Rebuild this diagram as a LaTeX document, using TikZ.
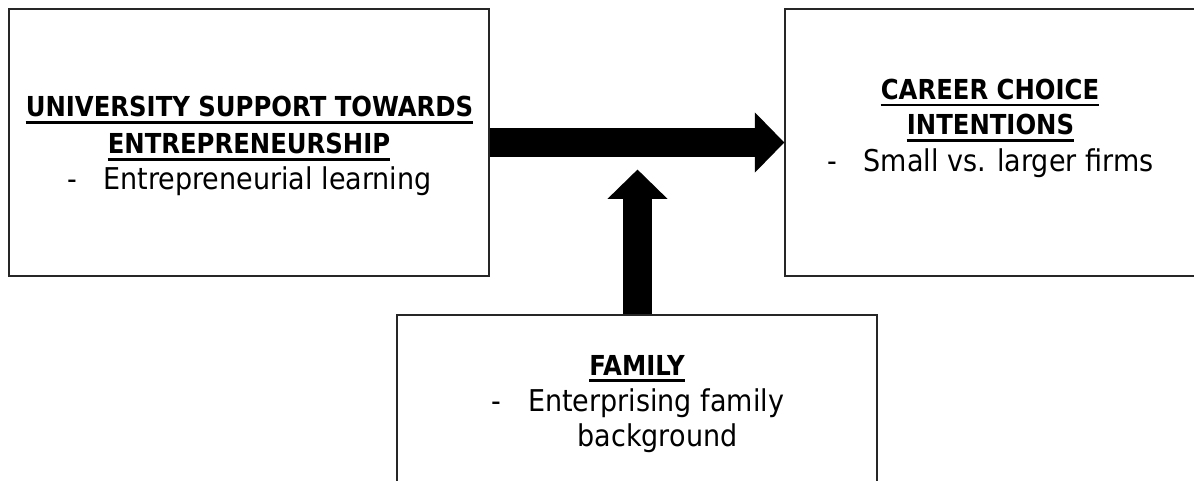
\documentclass[tikz,border=0pt]{standalone}
\usepackage{fontspec}
\setmainfont{DejaVu Sans}[FakeStretch=0.885]
\newfontfamily\bodyfont{DejaVu Sans}[FakeStretch=0.9]
\usetikzlibrary{arrows.meta}
\tikzset{
  box/.style={draw=black!85, line width=1.3pt, fill=none, inner sep=0pt},
  title/.style={font=\fontsize{27.5}{33}\selectfont\bfseries, inner sep=0pt, anchor=base},
  body/.style={font=\bodyfont\fontsize{30}{36}\selectfont, inner sep=0pt, anchor=base},
  ul/.style={line width=2.4pt, black},
  bigarrow/.style={line width=29.5pt, black, line cap=butt, -{Triangle[length=29.5pt, width=58.5pt]}}
}
\newcommand{\dashitem}{\makebox[36pt][l]{-}}
\begin{document}
\begin{tikzpicture}[x=1pt,y=-1pt]
\useasboundingbox (0,0) rectangle (1194,481);
% boxes
\node[box, minimum width=480pt, minimum height=267pt] (uni) at (249,142.5) {};
\node[box, minimum width=411pt, minimum height=267pt] (career) at (990.5,142.5) {};
\node[box, minimum width=480pt, minimum height=200pt] (family) at (637,415) {};
% left texts
\node[title] (u1) at (249.5,116.7) {UNIVERSITY SUPPORT TOWARDS};
\node[title] (u2) at (249,154) {ENTREPRENEURSHIP};
\node[body] (u3) at (249.5,190) {\dashitem Entrepreneurial learning};
\draw[ul] ([yshift=-6pt]u1.base west) -- ([yshift=-6pt]u1.base east);
\draw[ul] ([yshift=-5.5pt]u2.base west) -- ([yshift=-5.5pt]u2.base east);
% right texts
\node[title] (c1) at (990,99.3) {CAREER CHOICE};
\node[title] (c2) at (990.5,135) {INTENTIONS};
\node[body] (c3) at (990.5,171.7) {\dashitem Small vs. larger firms};
\draw[ul] ([yshift=-5.5pt]c1.base west) -- ([yshift=-5.5pt]c1.base east);
\draw[ul] ([yshift=-5.5pt]c2.base west) -- ([yshift=-5.5pt]c2.base east);
% family texts
\node[title] (f1) at (637,375) {FAMILY};
\node[body] (f2) at (637.5,411.7) {\makebox[37pt][l]{-}Enterprising family};
\node[body] (f3) at (657.5,446.7) {background};
\draw[ul] ([yshift=-5.5pt]f1.base west) -- ([yshift=-5.5pt]f1.base east);
% arrows
\coordinate (tipv) at (637.5,169.5);
\draw[bigarrow] (uni.east) -- (career.west);
\draw[bigarrow] (family.north -| tipv) -- (tipv);
\end{tikzpicture}
\end{document}
